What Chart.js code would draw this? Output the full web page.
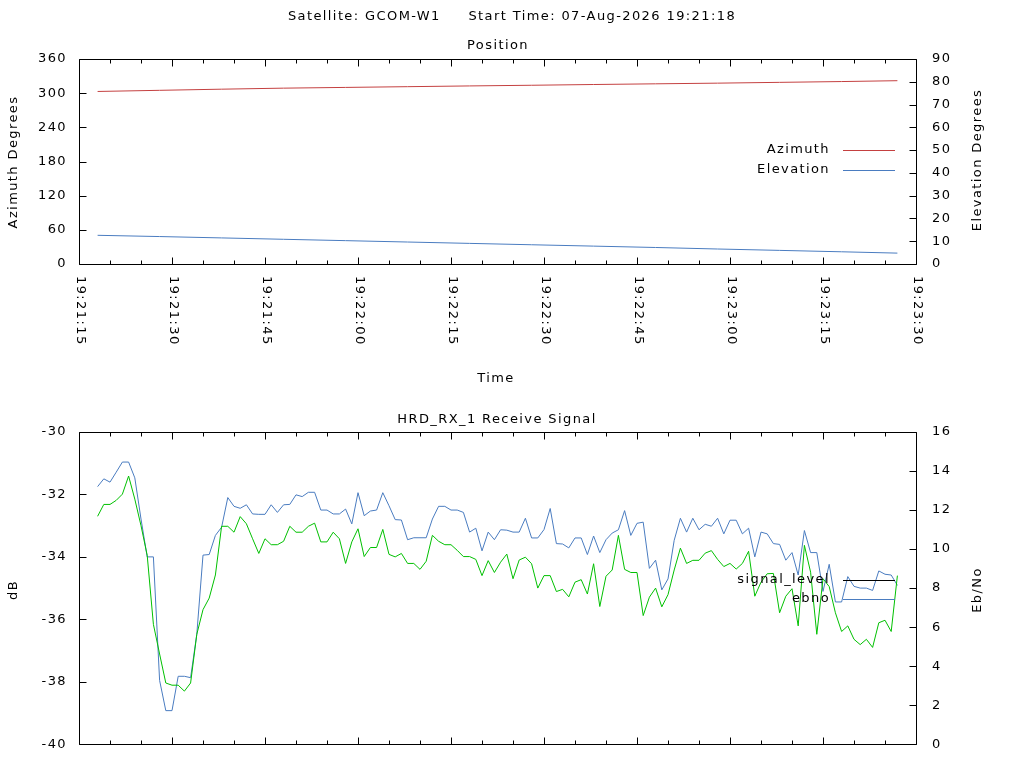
<!DOCTYPE html>
<html>
<head>
<meta charset="utf-8">
<title>GCOM-W1 pass</title>
<script src="https://cdn.jsdelivr.net/npm/chart.js@4.4.1/dist/chart.umd.min.js"></script>
<style>
  html, body { margin: 0; padding: 0; background: #fff; }
  #wrap { position: relative; width: 1024px; height: 768px; overflow: hidden; }
  canvas { position: absolute; left: 0; }
  #posChart { top: 0; }
  #sigChart { top: 400px; }
</style>
</head>
<body>
<div id="wrap">
  <canvas id="posChart" width="1024" height="400"></canvas>
  <canvas id="sigChart" width="1024" height="368"></canvas>
</div>
<script>
(function () {
  'use strict';

  // time axis runs 19:21:15 .. 19:23:30, values are seconds after its left edge
  const AXIS_START = [19, 21, 15];
  const AXIS_SPAN = 135;
  const TITLE = 'Satellite: GCOM-W1     Start Time: 07-Aug-2026 19:21:18';

  // antenna position, read every ~10 s
  const posSecs = [3, 13, 23, 33, 43, 53, 63, 73, 83, 93, 103, 113, 123, 132];
  const azimuth = [303.0, 305.0, 307.0, 308.8, 310.1, 311.4, 312.7, 313.9, 315.2, 316.4, 317.6, 319.0, 320.4, 321.9];
  const elevation = [12.6, 12.05, 11.45, 10.85, 10.25, 9.65, 9.05, 8.45, 7.85, 7.25, 6.58, 5.98, 5.36, 4.78];

  // receive signal, one sample per second starting 19:21:18
  const sigFirstSec = 3;
  const signalLevel = [
    -32.70, -32.32, -32.32, -32.19, -31.99, -31.41, -32.15, -33.00, -33.95, -36.16,
    -37.11, -38.04, -38.11, -38.11, -38.30, -38.04, -36.48, -35.69, -35.32, -34.58,
    -33.02, -33.02, -33.21, -32.71, -32.94, -33.42, -33.89, -33.42, -33.61, -33.61,
    -33.50, -33.02, -33.21, -33.21, -33.02, -32.92, -33.52, -33.52, -33.21, -33.42,
    -34.21, -33.52, -33.10, -33.99, -33.70, -33.70, -33.12, -33.92, -34.00, -33.89,
    -34.21, -34.21, -34.40, -34.14, -33.31, -33.50, -33.61, -33.61, -33.79, -33.99,
    -33.99, -34.08, -34.60, -34.12, -34.50, -34.17, -33.91, -34.70, -34.10, -34.01,
    -34.22, -35.00, -34.60, -34.60, -35.11, -35.04, -35.28, -34.81, -34.73, -35.19,
    -34.22, -35.59, -34.62, -34.42, -33.31, -34.40, -34.50, -34.50, -35.88, -35.29,
    -35.00, -35.60, -35.21, -34.42, -33.72, -34.21, -34.11, -34.11, -33.88, -33.80,
    -34.08, -34.31, -34.21, -34.39, -34.21, -33.82, -35.26, -34.81, -34.54, -34.53,
    -35.79, -35.26, -35.02, -36.21, -33.63, -34.49, -36.48, -34.70, -34.95, -35.79,
    -36.39, -36.21, -36.64, -36.81, -36.64, -36.90, -36.11, -36.03, -36.39, -34.60,
  ];
  const ebno = [
    13.20, 13.60, 13.43, 13.94, 14.46, 14.46, 13.65, 11.54, 9.60, 9.60,
    3.27, 1.72, 1.72, 3.48, 3.48, 3.41, 5.64, 9.69, 9.72, 10.70,
    11.12, 12.64, 12.19, 12.09, 12.27, 11.80, 11.78, 11.78, 12.27, 11.88,
    12.27, 12.29, 12.78, 12.69, 12.91, 12.91, 12.00, 12.00, 11.80, 11.80,
    12.05, 11.29, 12.89, 11.71, 11.95, 12.00, 12.89, 12.22, 11.51, 11.49,
    10.48, 10.58, 10.58, 10.58, 11.54, 12.19, 12.19, 12.00, 12.00, 11.88,
    10.87, 11.07, 9.91, 10.87, 10.48, 10.99, 10.97, 10.87, 10.87, 11.58,
    10.57, 10.57, 11.00, 12.08, 10.28, 10.26, 10.06, 10.57, 10.57, 9.72,
    10.67, 9.82, 10.48, 10.82, 10.99, 11.97, 10.70, 11.32, 11.38, 9.01,
    9.43, 7.91, 8.47, 10.45, 11.58, 10.87, 11.58, 10.99, 11.27, 11.17,
    11.58, 10.78, 11.48, 11.48, 10.78, 11.07, 9.60, 10.87, 10.78, 10.28,
    10.24, 9.43, 9.82, 8.67, 10.95, 9.82, 9.82, 7.83, 9.22, 7.29,
    7.29, 8.59, 8.09, 8.00, 8.00, 7.88, 8.88, 8.71, 8.67, 8.14,
  ];

  const RED = '#c44040';
  const BLUE = '#4a7cc0';
  const GREEN = '#00c000';
  const FONT_FAMILY = '"DejaVu Sans", sans-serif';
  const FONT = '13px ' + FONT_FAMILY;
  const SPACING = '1.4px';

  function clock(sec) {
    const s = AXIS_START[0] * 3600 + AXIS_START[1] * 60 + AXIS_START[2] + sec;
    return [Math.floor(s / 3600), Math.floor(s / 60) % 60, s % 60]
      .map((n) => String(n).padStart(2, '0')).join(':');
  }

  function text(ctx, s, x, y, align, rot) {
    ctx.save();
    ctx.font = FONT;
    ctx.fillStyle = '#000';
    ctx.letterSpacing = SPACING;
    ctx.translate(x, y);
    if (rot) ctx.rotate(rot);
    ctx.textAlign = align || 'center';
    ctx.textBaseline = 'middle';
    ctx.fillText(s, 0, 0);
    ctx.restore();
  }

  // gnuplot style frame: border, inward ticks, titles, key on the right
  function gnuFrame(cfg) {
    return {
      id: 'gnuFrame',
      beforeDraw(chart) { chart.ctx.letterSpacing = SPACING; },
      afterDatasetsDraw(chart) {
        const { ctx, chartArea: a, scales } = chart;
        const L = Math.round(a.left), R = Math.round(a.right);
        const T = Math.round(a.top), B = Math.round(a.bottom);
        ctx.save();
        ctx.letterSpacing = '0px';
        ctx.strokeStyle = '#000';
        ctx.lineWidth = 1;
        ctx.beginPath();
        ctx.rect(L + 0.5, T + 0.5, R - L, B - T);
        for (let v = 0; v <= AXIS_SPAN; v += 5) {
          const px = Math.round(scales.x.getPixelForValue(v)) + 0.5;
          const len = v % 15 === 0 ? 7 : 4;
          ctx.moveTo(px, B + 0.5); ctx.lineTo(px, B + 0.5 - len);
          ctx.moveTo(px, T + 0.5); ctx.lineTo(px, T + 0.5 + len);
        }
        scales.y.ticks.forEach((t) => {
          const py = Math.round(scales.y.getPixelForValue(t.value)) + 0.5;
          ctx.moveTo(L + 0.5, py); ctx.lineTo(L + 7.5, py);
        });
        scales.y2.ticks.forEach((t) => {
          const py = Math.round(scales.y2.getPixelForValue(t.value)) + 0.5;
          ctx.moveTo(R + 0.5, py); ctx.lineTo(R - 6.5, py);
        });
        ctx.stroke();

        cfg.key.forEach((k) => {
          text(ctx, k.label, 830, k.y, 'right');
          ctx.strokeStyle = k.color;
          ctx.beginPath();
          ctx.moveTo(843, k.y + 0.5);
          ctx.lineTo(895, k.y + 0.5);
          ctx.stroke();
        });
        ctx.restore();

        cfg.texts.forEach((t) => text(ctx, t[0], t[1], t[2], 'center', t[3]));
        if (cfg.timeLabels) {
          for (let v = 0; v <= AXIS_SPAN; v += 15) {
            const px = Math.round(scales.x.getPixelForValue(v)) + 1;
            text(ctx, clock(v), px, B + 12, 'left', Math.PI / 2);
          }
        }
      },
    };
  }

  function axes(yMin, yMax, yStep, y2Min, y2Max, y2Step, xHeight) {
    const tickFont = { family: FONT_FAMILY, size: 13 };
    const hidden = { display: false, drawTicks: false };
    return {
      x: {
        type: 'linear', min: 0, max: AXIS_SPAN,
        ticks: { display: false }, grid: hidden, border: { display: false },
        afterFit: (s) => { s.height = xHeight; },
      },
      y: {
        position: 'left', min: yMin, max: yMax,
        ticks: { stepSize: yStep, padding: 12, font: tickFont, color: '#000' },
        grid: hidden, border: { display: false },
        afterFit: (s) => { s.width = 79; },
      },
      y2: {
        position: 'right', min: y2Min, max: y2Max,
        ticks: { stepSize: y2Step, padding: 16, font: tickFont, color: '#000' },
        grid: hidden, border: { display: false },
        afterFit: (s) => { s.width = 108; },
      },
    };
  }

  const common = {
    responsive: false,
    animation: false,
    devicePixelRatio: 1,
    plugins: { legend: { display: false }, tooltip: { enabled: false } },
  };

  const line = (color, axis, pts) => ({
    data: pts, yAxisID: axis, borderColor: color, borderWidth: 1,
    pointRadius: 0, fill: false, tension: 0,
  });

  new Chart(document.getElementById('posChart'), {
    type: 'line',
    data: {
      datasets: [
        Object.assign({ label: 'Azimuth' }, line(RED, 'y', posSecs.map((s, i) => ({ x: s, y: azimuth[i] })))),
        Object.assign({ label: 'Elevation' }, line(BLUE, 'y2', posSecs.map((s, i) => ({ x: s, y: elevation[i] })))),
      ],
    },
    options: Object.assign({}, common, {
      layout: { padding: { top: 59, left: 0, right: 0, bottom: 0 } },
      scales: axes(0, 360, 60, 0, 90, 10, 136),
    }),
    plugins: [gnuFrame({
      timeLabels: true,
      key: [
        { label: 'Azimuth', y: 150, color: RED },
        { label: 'Elevation', y: 170, color: BLUE },
      ],
      texts: [
        [TITLE, 512, 17],
        ['Position', 498, 46],
        ['Azimuth Degrees', 14, 162, -Math.PI / 2],
        ['Elevation Degrees', 978, 160, -Math.PI / 2],
        ['Time', 496, 379],
      ],
    })],
  });

  new Chart(document.getElementById('sigChart'), {
    type: 'line',
    data: {
      datasets: [
        Object.assign({ label: 'signal_level' }, line(GREEN, 'y', signalLevel.map((v, i) => ({ x: sigFirstSec + i, y: v })))),
        Object.assign({ label: 'ebno' }, line(BLUE, 'y2', ebno.map((v, i) => ({ x: sigFirstSec + i, y: v })))),
      ],
    },
    options: Object.assign({}, common, {
      layout: { padding: { top: 32, left: 0, right: 0, bottom: 0 } },
      scales: axes(-40, -30, 2, 0, 16, 2, 20),
    }),
    plugins: [gnuFrame({
      timeLabels: false,
      key: [
        { label: 'signal_level', y: 180, color: '#000' },
        { label: 'ebno', y: 199, color: BLUE },
      ],
      texts: [
        ['HRD_RX_1 Receive Signal', 497, 20],
        ['dB', 14, 190, -Math.PI / 2],
        ['Eb/No', 978, 190, -Math.PI / 2],
      ],
    })],
  });
}());
</script>
</body>
</html>
